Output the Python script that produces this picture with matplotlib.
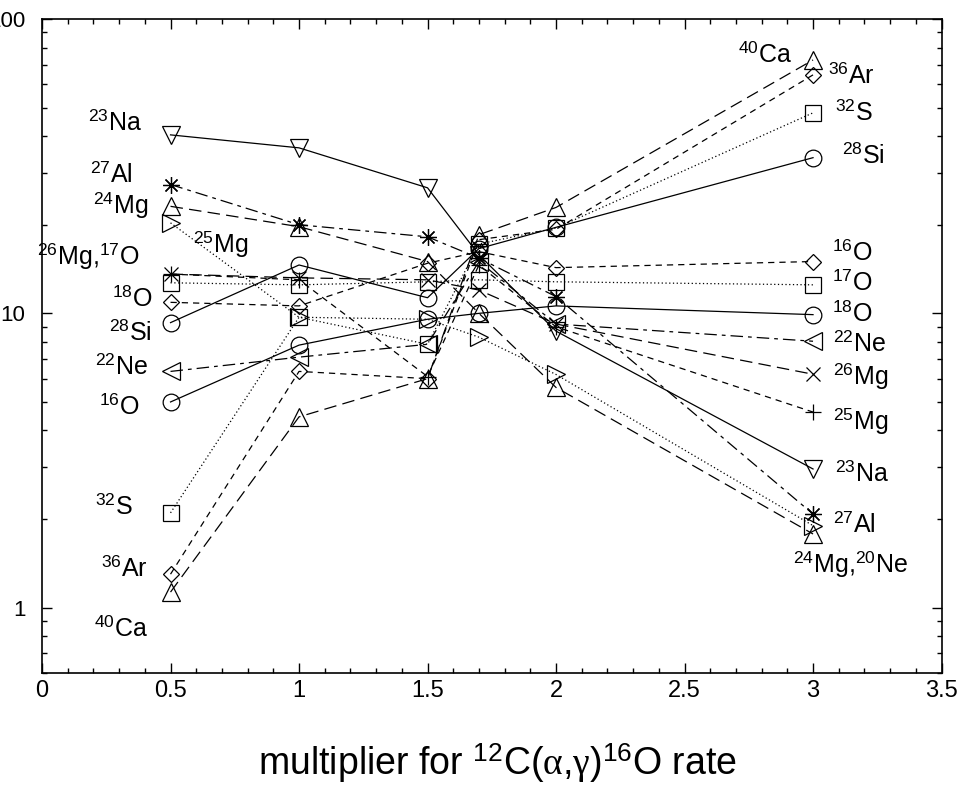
import numpy as np
import matplotlib
matplotlib.use("Agg")
import matplotlib.pyplot as plt
from matplotlib.ticker import MultipleLocator, LogLocator, NullFormatter, FixedLocator, FuncFormatter

plt.rcParams["mathtext.fontset"] = "custom"
plt.rcParams["mathtext.rm"] = "Liberation Sans"
plt.rcParams["mathtext.it"] = "Liberation Serif"
plt.rcParams["font.family"] = "Liberation Sans"

# multiplier values where the network was run
mult = [0.5, 1.0, 1.5, 1.7, 2.0, 3.0]

# final abundances (relative units) per isotope
ca40 = [1.13, 4.45, 6.0, 18.5, 22.9, 72.6]
ar36 = [1.30, 6.35, 6.0, 17.8, 19.3, 64.6]
s32 = [2.1, 9.7, 7.85, 17.2, 19.5, 48.0]
si28 = [9.3, 14.6, 11.3, 16.6, 19.6, 33.8]
o16 = [10.9, 10.6, 14.8, 16.2, 14.3, 15.0]
o17 = [12.7, 12.5, 12.8, 13.0, 12.8, 12.5]
o18 = [5.0, 7.8, 9.55, 10.0, 10.6, 9.9]
ne22 = [6.35, 7.1, 7.85, 15.0, 9.2, 8.04]
mg26 = [13.6, 13.2, 13.0, 12.0, 9.2, 6.21]
mg25 = [13.6, 13.0, 6.1, 14.6, 9.0, 4.62]
na23 = [40.4, 36.5, 26.7, 15.8, 8.7, 2.96]
al27 = [27.4, 20.0, 18.2, 15.4, 11.4, 2.08]
mg24 = [23.1, 19.7, 15.0, 10.0, 5.6, 1.78]
ne20 = [20.3, 9.7, 9.55, 8.3, 6.2, 1.90]

LONG = (0, (10, 5))
SHORT = (0, (5, 4))
DOT = (0, (1, 2))
DASHDOT = (0, (10, 4, 3, 4))

series = [
    (ca40, "^", 13, LONG),
    (ar36, "D", 8, SHORT),
    (s32, "s", 12, DOT),
    (si28, "o", 12, "-"),
    (o16, "D", 8, SHORT),
    (o17, "s", 12, DOT),
    (o18, "o", 12, "-"),
    (ne22, "<", 13, DASHDOT),
    (mg26, "x", 10, LONG),
    (mg25, "+", 12, SHORT),
    (na23, "v", 13, "-"),
    (al27, (8, 2, 0), 12, DASHDOT),
    (mg24, "^", 13, LONG),
    (ne20, ">", 13, DOT),
]

fig = plt.figure(figsize=(9.64, 7.99), dpi=100)
ax = fig.add_axes([0.0436, 0.1577, 0.9331, 0.8185])

for vals, mk, ms, ls in series:
    ax.plot(mult, vals, color="black", lw=0.9, linestyle=ls,
            marker=mk, markersize=ms, markerfacecolor="none",
            markeredgecolor="black", markeredgewidth=0.9)

ax.set_yscale("log")
ax.set_xlim(0, 3.5)
ax.set_ylim(0.6, 100)

ax.xaxis.set_major_locator(MultipleLocator(0.5))
ax.xaxis.set_minor_locator(MultipleLocator(0.1))
ax.xaxis.set_major_formatter(FuncFormatter(lambda v, p: f"{v:g}"))
ax.yaxis.set_major_locator(FixedLocator([1, 10, 100]))
ax.yaxis.set_minor_locator(LogLocator(base=10, subs=np.arange(2, 10)))
ax.yaxis.set_major_formatter(FuncFormatter(lambda v, p: f"{v:g}"))
ax.yaxis.set_minor_formatter(NullFormatter())

ax.tick_params(which="both", direction="in", top=True, right=True, width=1)
ax.tick_params(which="major", length=7)
ax.tick_params(which="minor", length=3.5)
ax.tick_params(axis="x", pad=5, labelsize=17)
ax.tick_params(axis="y", pad=12, labelsize=16)
for sp in ax.spines.values():
    sp.set_linewidth(1.2)

lab_kw = dict(fontsize=18, va="baseline")

# isotope names next to the first column
left_labels = [
    (r"$^{23}$Na", 0.389, 42.0),
    (r"$^{27}$Al", 0.354, 28.0),
    (r"$^{24}$Mg", 0.412, 22.0),
    (r"$^{26}$Mg,$^{17}$O", 0.381, 14.7),
    (r"$^{18}$O", 0.428, 10.6),
    (r"$^{28}$Si", 0.428, 8.1),
    (r"$^{22}$Ne", 0.412, 6.21),
    (r"$^{16}$O", 0.381, 4.54),
    (r"$^{32}$S", 0.354, 2.08),
    (r"$^{36}$Ar", 0.412, 1.28),
    (r"$^{40}$Ca", 0.412, 0.80),
]
for txt, x, y in left_labels:
    ax.text(x, y, txt, ha="right", **lab_kw)
ax.text(0.588, 16.1, r"$^{25}$Mg", ha="left", **lab_kw)

# isotope names next to the last column
right_labels = [
    (r"$^{40}$Ca", 2.708, 71.5),
    (r"$^{36}$Ar", 3.058, 60.7),
    (r"$^{32}$S", 3.086, 45.5),
    (r"$^{28}$Si", 3.113, 32.5),
    (r"$^{16}$O", 3.074, 15.2),
    (r"$^{17}$O", 3.074, 12.05),
    (r"$^{18}$O", 3.074, 9.4),
    (r"$^{22}$Ne", 3.078, 7.43),
    (r"$^{26}$Mg", 3.078, 5.74),
    (r"$^{25}$Mg", 3.078, 4.04),
    (r"$^{23}$Na", 3.086, 2.70),
    (r"$^{27}$Al", 3.078, 1.81),
    (r"$^{24}$Mg,$^{20}$Ne", 2.922, 1.32),
]
for txt, x, y in right_labels:
    ax.text(x, y, txt, ha="left", **lab_kw)

fig.text(0.5156, 0.030,
         r"multiplier for $^{12}$C($\alpha$,$\gamma$)$^{16}$O rate",
         ha="center", va="baseline", fontsize=27)

fig.savefig("out.png", dpi=100)
